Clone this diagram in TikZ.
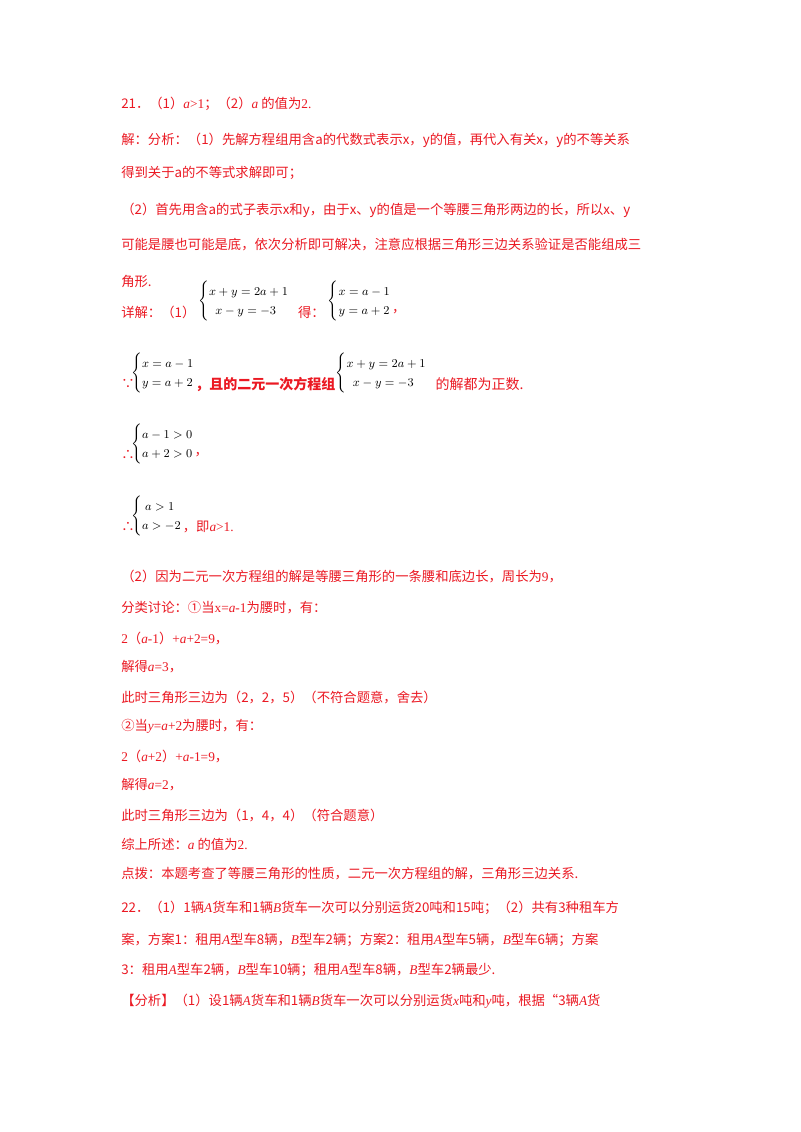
\documentclass[tikz,border=0pt]{standalone}
\usepackage{fontspec}
\setmainfont{Liberation Serif}
\newfontfamily\cjk{Noto Sans CJK SC}
\definecolor{rd}{RGB}{235,25,35}
\newcommand{\ci}[1]{\textit{#1}}
\renewcommand{\arraystretch}{1.3}
\begin{document}
\begin{tikzpicture}[x=0.75pt,y=-0.75pt,
  tl/.style={anchor=west,inner sep=0pt,text=rd,font=\cjk\fontsize{10}{12}\selectfont},
  eq/.style={anchor=west,inner sep=0pt,text=black,font=\fontsize{9.5}{11}\selectfont}]
\useasboundingbox[fill=white] (0,0) rectangle (800,1132);
\node[tl] (l1) at (121,104) {21．（1）{\rmfamily\itshape a}{\rmfamily >1}；（2）{\rmfamily\itshape a} 的值为{\rmfamily 2.}};
\node[tl] (l2) at (121,140) {解：分析：（1）先解方程组用含a的代数式表示x，y的值，再代入有关x，y的不等关系};
\node[tl] (l3) at (121,173) {得到关于a的不等式求解即可；};
\node[tl] (l4) at (121,210) {（2）首先用含a的式子表示x和y，由于x、y的值是一个等腰三角形两边的长，所以x、y};
\node[tl] (l5) at (121,245) {可能是腰也可能是底，依次分析即可解决，注意应根据三角形三边关系验证是否能组成三};
\node[tl] (l6) at (121,281) {角形.};
\node[tl] (l7) at (121,312) {详解：（1）};
\node[eq] (e1) at (198,301) {$\left\{\begin{array}{@{}l@{}}x+y=2a+1\\ \ \ x-y=-3\end{array}\right.$};
\node[tl] (l7b) at ([xshift=6pt]e1.east |- l7) {得：};
\node[eq] (e2) at ([xshift=2pt]l7b.east |- e1) {$\left\{\begin{array}{@{}l@{}}x=a-1\\ y=a+2\end{array}\right.$};
\node[tl] (l7c) at (e2.east |- l7) {，};
\node[tl] (l8) at (121,384) {∵};
\node[eq] (e3) at (131,373) {$\left\{\begin{array}{@{}l@{}}x=a-1\\ y=a+2\end{array}\right.$};
\node[tl,font=\cjk\bfseries\fontsize{10.5}{12}\selectfont] (l8b) at (e3.east |- l8) {，且的二元一次方程组};
\node[eq] (e4) at (l8b.east |- e3) {$\left\{\begin{array}{@{}l@{}}x+y=2a+1\\ \ \ x-y=-3\end{array}\right.$};
\node[tl,font=\cjk\fontsize{10.5}{12}\selectfont] (l8c) at ([xshift=6pt]e4.east |- l8) {的解都为正数.};
\node[tl] (l9) at (121,455) {∴};
\node[eq] (e5) at (131,444) {$\left\{\begin{array}{@{}l@{}}a-1>0\\ a+2>0\end{array}\right.$};
\node[tl] (l9b) at (e5.east |- l9) {，};
\node[tl] (l10) at (121,527) {∴};
\node[eq] (e6) at (131,516) {$\left\{\begin{array}{@{}l@{}}\ a>1\\ a>-2\end{array}\right.$};
\node[tl] (l10b) at (e6.east |- l10) {，即{\rmfamily\itshape a}{\rmfamily >1.}};
\node[tl] (m1) at (121,576) {（2）因为二元一次方程组的解是等腰三角形的一条腰和底边长，周长为{\rmfamily 9}，};
\node[tl] (m2) at (121,608) {分类讨论：①当{\rmfamily x=\ci{a}-1}为腰时，有：};
\node[tl] (m3) at (121,638) {{\rmfamily 2}（{\rmfamily\ci{a}-1}）{\rmfamily +\ci{a}+2=9}，};
\node[tl] (m4) at (121,667) {解得{\rmfamily\ci{a}=3}，};
\node[tl] (m5) at (121,697) {此时三角形三边为（2，2，5）（不符合题意，舍去）};
\node[tl] (m6) at (121,726) {②当{\rmfamily\ci{y}=\ci{a}+2}为腰时，有：};
\node[tl] (m7) at (121,756) {{\rmfamily 2}（{\rmfamily\ci{a}+2}）{\rmfamily +\ci{a}-1=9}，};
\node[tl] (m8) at (121,785) {解得{\rmfamily\ci{a}=2}，};
\node[tl] (m9) at (121,815) {此时三角形三边为（1，4，4）（符合题意）};
\node[tl] (m10) at (121,844) {综上所述：{\rmfamily\ci{a}} 的值为{\rmfamily 2.}};
\node[tl] (m11) at (121,874) {点拨：本题考查了等腰三角形的性质，二元一次方程组的解，三角形三边关系.};
\node[tl] (n1) at (121,908) {22．（1）1辆{\rmfamily\ci{A}}货车和1辆{\rmfamily\ci{B}}货车一次可以分别运货20吨和15吨；（2）共有3种租车方};
\node[tl] (n2) at (121,940) {案，方案1：租用{\rmfamily\ci{A}}型车8辆，{\rmfamily\ci{B}}型车2辆；方案2：租用{\rmfamily\ci{A}}型车5辆，{\rmfamily\ci{B}}型车6辆；方案};
\node[tl] (n3) at (121,970) {3：租用{\rmfamily\ci{A}}型车2辆，{\rmfamily\ci{B}}型车10辆；租用{\rmfamily\ci{A}}型车8辆，{\rmfamily\ci{B}}型车2辆最少.};
\node[tl] (n4) at (121,1001) {【分析】（1）设1辆{\rmfamily\ci{A}}货车和1辆{\rmfamily\ci{B}}货车一次可以分别运货{\rmfamily\ci{x}}吨和{\rmfamily\ci{y}}吨，根据“3辆{\rmfamily\ci{A}}货};
\end{tikzpicture}
\end{document}
